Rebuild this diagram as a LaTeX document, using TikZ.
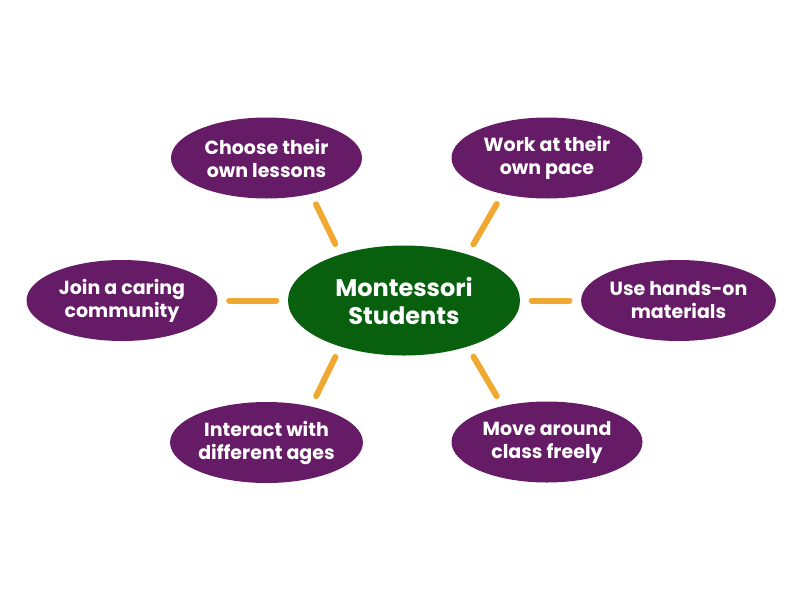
\documentclass[tikz,border=0pt]{standalone}
\usepackage{fontspec}
\setmainfont{Poppins}
\usetikzlibrary{shapes.geometric}
\definecolor{leafpurple}{HTML}{661B66}
\definecolor{hubgreen}{HTML}{08600F}
\definecolor{linkorange}{HTML}{F0A830}

\begin{document}
\begin{tikzpicture}[x=1pt,y=-1pt,
    leaf/.style={ellipse, fill=leafpurple, text=white, inner sep=0pt, minimum width=191pt, minimum height=81pt, align=center, font=\bfseries\fontsize{19}{23}\selectfont},
    hub/.style={ellipse, fill=hubgreen, text=white, inner sep=0pt, minimum width=232pt, minimum height=110pt, align=center, font=\bfseries\fontsize{24}{28}\selectfont},
    link/.style={draw=linkorange, line width=6pt, line cap=round, shorten <=11.5pt, shorten >=11.5pt}]
    \useasboundingbox (0,0) rectangle (800,600);
    \node [hub] (hub) at (404,300.5) {Montessori\\Students};

    \node [leaf] (lessons) at (266.5,158) {Choose their\\own lessons};
    \node [leaf] (pace) at (547,158) {Work at their\\own pace};
    \node [leaf] (join) at (122,300.5) {Join a caring\\community};
    \node [leaf] (hands) at (678.5,300.5) {Use hands-on\\materials};
    \node [leaf] (ages) at (266.5,442.5) {Interact with\\different ages};
    \node [leaf] (move) at (547,442) {Move around\\class freely};

    \draw [link] (hub.144) -- (lessons.-39);
    \draw [link] (hub.36) -- (pace.-141);
    \draw [link] (hub.180) -- (join.0);
    \draw [link] (hub.0) -- (hands.180);
    \draw [link] (hub.-144) -- (ages.39);
    \draw [link] (hub.-36) -- (move.141);
  \end{tikzpicture}
\end{document}
